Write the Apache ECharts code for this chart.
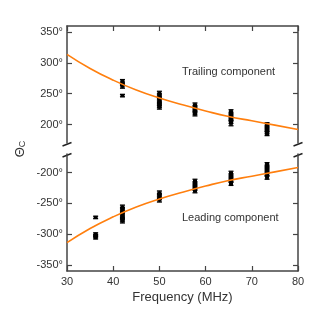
<!DOCTYPE html>
<html><head><meta charset="utf-8">
<script src="https://cdn.jsdelivr.net/npm/echarts@6/dist/echarts.min.js"></script>
<style>html,body{margin:0;padding:0;background:#fff}#c{width:315px;height:315px}</style>
</head><body><div id="c"></div>
<script>
// ---- data ----
const xTicks = [30, 40, 50, 60, 70, 80];
const topTicks = [200, 250, 300, 350];
const bottomTicks = [-350, -300, -250, -200];

const trailingFreq = [42, 42, 42, 42, 50, 50, 50, 50, 50, 50, 50, 57.7, 57.7, 57.7, 57.7, 57.7, 65.5, 65.5, 65.5, 65.5, 65.5, 65.5, 73.3, 73.3, 73.3, 73.3, 73.3];
const trailingVal  = [270, 266, 262, 247, 251, 247, 243, 239, 235, 231, 228, 232, 228, 224, 220, 217, 221, 217, 213, 209, 205, 202, 200, 196, 192, 188, 185];
const trailingErr  = [3, 3, 3, 2, 3, 3, 3, 3, 3, 3, 3, 3, 3, 3, 3, 3, 3, 3, 3, 3, 3, 4, 3, 3, 3, 3, 3];

const leadingFreq = [36.2, 36.2, 36.2, 36.2, 42, 42, 42, 42, 42, 42, 42, 50, 50, 50, 50, 57.7, 57.7, 57.7, 57.7, 57.7, 65.5, 65.5, 65.5, 65.5, 65.5, 73.3, 73.3, 73.3, 73.3, 73.3, 73.3];
const leadingVal  = [-273, -300, -303, -306, -256, -260, -264, -268, -272, -276, -279, -233, -237, -241, -245, -214, -218, -222, -226, -230, -201, -205, -209, -213, -218, -187, -191, -195, -199, -203, -208];
const leadingErr  = [2, 2, 2, 2, 3, 3, 3, 3, 3, 3, 3, 3, 3, 3, 3, 3, 3, 3, 3, 3, 3, 3, 3, 3, 3, 3, 3, 3, 3, 3, 3];

const fitFreq     = [30, 35, 40, 45, 50, 55, 60, 65, 70, 75, 80];
const fitTrailing = [314, 291, 272, 256, 243, 232, 222, 213, 206, 199, 192];
const fitLeading  = [-314, -291, -272, -256, -243, -232, -222, -213, -206, -199, -192];

// ---- chart ----
const AXC = '#444';
const LBL = '#333';
const FONT = 'Liberation Sans, Arial, sans-serif';

function pts(fx, fy, fe) { return fx.map((f, i) => fe ? [f, fy[i], fe[i]] : [f, fy[i]]); }

function renderErr(params, api) {
  const x = api.value(0), y = api.value(1), e = api.value(2);
  const p = api.coord([x, y]);
  const lo = api.coord([x, y - e]);
  const hi = api.coord([x, y + e]);
  const w = 2.5;
  const st = { stroke: '#000', lineWidth: 1.3 };
  return { type: 'group', children: [
    { type: 'line', shape: { x1: p[0], y1: lo[1], x2: p[0], y2: hi[1] }, style: st },
    { type: 'line', shape: { x1: p[0] - w, y1: lo[1], x2: p[0] + w, y2: lo[1] }, style: st },
    { type: 'line', shape: { x1: p[0] - w, y1: hi[1], x2: p[0] + w, y2: hi[1] }, style: st },
    { type: 'rect', shape: { x: p[0] - 2, y: p[1] - 1.5, width: 4, height: 3 }, style: { fill: '#000' } }
  ]};
}

function xAx(grid, pos, showLabels) {
  return {
    type: 'value', gridIndex: grid, position: pos, min: 30, max: 80, interval: 10,
    axisLine: { show: true, onZero: false, lineStyle: { color: AXC, width: 1.5 } },
    axisTick: { show: true, inside: true, length: 5, lineStyle: { color: AXC, width: 1.2 } },
    axisLabel: { show: showLabels, color: LBL, fontSize: 11, fontFamily: FONT, margin: 5,
      customValues: xTicks },
    splitLine: { show: false },
    name: showLabels ? 'Frequency (MHz)' : '',
    nameLocation: 'middle', nameGap: 20,
    nameTextStyle: { color: LBL, fontSize: 13, fontFamily: FONT }
  };
}
function yAx(grid, pos, min, max, ticks, showLabels) {
  return {
    type: 'value', gridIndex: grid, position: pos, min: min, max: max,
    axisLine: { show: true, onZero: false, lineStyle: { color: AXC, width: 1.5 } },
    axisTick: { show: true, inside: true, length: 5, customValues: ticks, lineStyle: { color: AXC, width: 1.2 } },
    axisLabel: { show: showLabels, customValues: ticks, color: LBL, fontSize: 11, fontFamily: FONT, margin: 4,
      formatter: v => v + '°' },
    splitLine: { show: false }
  };
}

const chart = echarts.init(document.getElementById('c'), null, { renderer: 'canvas' });
const option = {
  animation: false,
  backgroundColor: '#fff',
  grid: [
    { left: 67, right: 17, top: 26, height: 117 },
    { left: 67, right: 17, top: 154, height: 117 }
  ],
  xAxis: [ xAx(0, 'top', false), xAx(1, 'bottom', true) ],
  yAxis: [
    yAx(0, 'left', 170, 360, topTicks, true),
    yAx(0, 'right', 170, 360, topTicks, false),
    yAx(1, 'left', -360, -170, bottomTicks, true),
    yAx(1, 'right', -360, -170, bottomTicks, false)
  ],
  series: [
    { type: 'line', xAxisIndex: 0, yAxisIndex: 0, data: pts(fitFreq, fitTrailing), smooth: true, symbol: 'none',
      lineStyle: { color: '#ff7f0e', width: 1.6 }, z: 3 },
    { type: 'line', xAxisIndex: 1, yAxisIndex: 2, data: pts(fitFreq, fitLeading), smooth: true, symbol: 'none',
      lineStyle: { color: '#ff7f0e', width: 1.6 }, z: 3 },
    { type: 'custom', xAxisIndex: 0, yAxisIndex: 0, renderItem: renderErr, data: pts(trailingFreq, trailingVal, trailingErr), z: 2 },
    { type: 'custom', xAxisIndex: 1, yAxisIndex: 2, renderItem: renderErr, data: pts(leadingFreq, leadingVal, leadingErr), z: 2 }
  ],
  graphic: [
    { type: 'text', left: 182, top: 66, style: { text: 'Trailing component', fill: LBL, fontSize: 11, fontFamily: FONT } },
    { type: 'text', left: 182, top: 212, style: { text: 'Leading component', fill: LBL, fontSize: 11, fontFamily: FONT } },
    { type: 'text', x: 20, y: 149, rotation: Math.PI / 2,
      style: { text: '{a|Θ}{s|C}', align: 'center', verticalAlign: 'middle',
        rich: { a: { fontSize: 13, fill: LBL, fontFamily: FONT, color: LBL },
                s: { fontSize: 9, fill: LBL, color: LBL, fontFamily: FONT, padding: [5, 0, 0, 0] } } } },
    { type: 'line', shape: { x1: 62.5, y1: 146, x2: 71.5, y2: 142.5 }, style: { stroke: '#222', lineWidth: 1.4 } },
    { type: 'line', shape: { x1: 62.5, y1: 157, x2: 71.5, y2: 153.5 }, style: { stroke: '#222', lineWidth: 1.4 } },
    { type: 'line', shape: { x1: 293.5, y1: 146, x2: 302.5, y2: 142.5 }, style: { stroke: '#222', lineWidth: 1.4 } },
    { type: 'line', shape: { x1: 293.5, y1: 157, x2: 302.5, y2: 153.5 }, style: { stroke: '#222', lineWidth: 1.4 } }
  ]
};
chart.setOption(option);
</script>
</body></html>
